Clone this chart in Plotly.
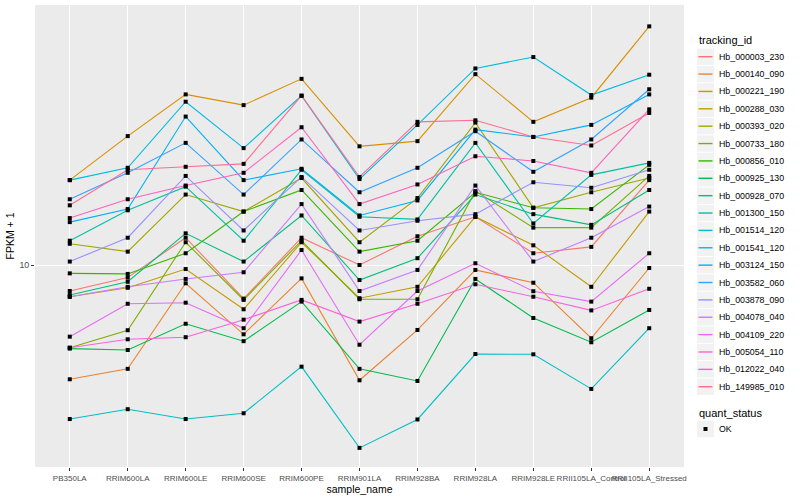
import plotly.graph_objects as go

samples = ["PB350LA", "RRIM600LA", "RRIM600LE", "RRIM600SE", "RRIM600PE", "RRIM901LA",
           "RRIM928BA", "RRIM928LA", "RRIM928LE", "RRII105LA_Control", "RRII105LA_Stressed"]

# FPKM + 1 values per tracking_id
hb_000003_230 = [8.61, 9.30, 11.7, 8.24, 11.7, 10.0, 11.8, 13.2, 10.7, 11.1, 16.3]
hb_000140_090 = [5.18, 5.50, 9.00, 6.71, 9.26, 5.15, 6.88, 9.72, 9.03, 6.56, 9.83]
hb_000221_190 = [16.3, 21.0, 26.7, 25.1, 29.2, 19.8, 20.4, 30.0, 22.8, 26.2, 39.5]
hb_000288_030 = [8.33, 8.77, 9.77, 7.75, 11.4, 8.26, 8.82, 13.2, 11.2, 8.82, 13.6]
hb_000393_020 = [11.3, 10.8, 15.0, 13.6, 16.5, 11.4, 14.7, 22.7, 13.9, 15.2, 16.5]
hb_000733_180 = [6.21, 6.87, 11.4, 8.18, 11.5, 8.21, 8.21, 15.3, 12.4, 12.4, 16.7]
hb_000856_010 = [9.53, 9.50, 10.7, 13.6, 15.4, 10.8, 11.5, 15.2, 13.9, 13.8, 17.8]
hb_000925_130 = [6.18, 6.13, 7.13, 6.45, 8.10, 5.50, 5.13, 9.23, 7.37, 6.41, 7.72]
hb_000928_070 = [8.41, 9.08, 12.0, 10.2, 13.3, 9.17, 10.4, 15.0, 13.4, 12.6, 15.4]
hb_001300_150 = [11.5, 13.7, 15.7, 11.5, 17.3, 13.2, 13.0, 20.2, 12.7, 16.8, 18.0]
hb_001514_120 = [4.12, 4.36, 4.12, 4.26, 5.57, 3.49, 4.11, 5.99, 5.98, 4.90, 6.95]
hb_001541_120 = [16.3, 17.5, 25.6, 19.6, 26.5, 16.4, 22.4, 31.0, 33.1, 26.6, 29.9]
hb_003124_150 = [12.8, 13.8, 23.5, 16.3, 17.4, 13.3, 14.5, 21.8, 20.9, 22.4, 26.7]
hb_003582_060 = [14.6, 17.0, 20.2, 15.0, 20.6, 15.2, 17.5, 21.6, 17.1, 20.6, 27.5]
hb_003878_090 = [10.2, 11.7, 16.7, 12.2, 16.6, 12.2, 12.9, 13.4, 16.1, 15.6, 17.3]
hb_004078_040 = [8.33, 8.82, 9.23, 9.59, 14.2, 8.61, 9.72, 15.8, 10.2, 11.7, 14.0]
hb_004109_220 = [6.62, 8.00, 8.05, 6.95, 10.9, 6.32, 8.61, 10.1, 8.60, 8.10, 10.7]
hb_005054_110 = [6.21, 6.52, 6.60, 7.30, 8.18, 7.22, 8.00, 8.95, 8.33, 7.70, 8.72]
hb_012022_040 = [13.1, 14.6, 15.8, 17.0, 22.1, 14.2, 15.9, 18.7, 18.2, 17.0, 24.5]
hb_149985_010 = [14.1, 17.3, 17.6, 17.9, 26.5, 16.6, 22.8, 23.0, 20.9, 19.9, 24.0]

tracking_ids = ["Hb_000003_230", "Hb_000140_090", "Hb_000221_190", "Hb_000288_030",
                "Hb_000393_020", "Hb_000733_180", "Hb_000856_010", "Hb_000925_130",
                "Hb_000928_070", "Hb_001300_150", "Hb_001514_120", "Hb_001541_120",
                "Hb_003124_150", "Hb_003582_060", "Hb_003878_090", "Hb_004078_040",
                "Hb_004109_220", "Hb_005054_110", "Hb_012022_040", "Hb_149985_010"]
series = [hb_000003_230, hb_000140_090, hb_000221_190, hb_000288_030, hb_000393_020,
          hb_000733_180, hb_000856_010, hb_000925_130, hb_000928_070, hb_001300_150,
          hb_001514_120, hb_001541_120, hb_003124_150, hb_003582_060, hb_003878_090,
          hb_004078_040, hb_004109_220, hb_005054_110, hb_012022_040, hb_149985_010]
colors = ["#F8766D", "#EA8331", "#D89000", "#C09B00", "#A3A500", "#7CAE00", "#39B600",
          "#00BB4E", "#00BF7D", "#00C1A3", "#00BFC4", "#00BAE0", "#00B0F6", "#35A2FF",
          "#9590FF", "#C77CFF", "#E76BF3", "#FA62DB", "#FF62BC", "#FF6C91"]

W, H = 800, 500
ML, MR, MT, MB = 35, 116, 5, 33
PW, PH = W - ML - MR, H - MT - MB

def px(x):
    return (x - ML) / PW

def py(y):
    return (H - MB - y) / PH

AXFONT = "Liberation Sans Narrow, Arial Narrow, Liberation Sans, Arial, sans-serif"
LFONT = "Liberation Sans, Arial, sans-serif"

fig = go.Figure()
for name, vals, col in zip(tracking_ids, series, colors):
    fig.add_trace(go.Scatter(x=samples, y=vals, mode="lines", name=name,
                             line=dict(color=col, width=1.1), showlegend=False))

all_x, all_y = [], []
for vals in series:
    all_x += samples
    all_y += vals
fig.add_trace(go.Scatter(x=all_x, y=all_y, mode="markers", name="OK", showlegend=False,
                         marker=dict(color="black", symbol="square", size=4, line=dict(width=0))))

shapes, annots = [], []
# legend: tracking_id
annots.append(dict(x=px(697), y=py(40), xref="paper", yref="paper", text="tracking_id",
                   showarrow=False, xanchor="left", yanchor="middle",
                   font=dict(family=LFONT, size=11, color="black")))
for i, (name, col) in enumerate(zip(tracking_ids, colors)):
    cy = 56.7 + 17.37 * i
    shapes.append(dict(type="rect", xref="paper", yref="paper", x0=px(697), x1=px(714),
                       y0=py(cy + 8.2), y1=py(cy - 8.2), fillcolor="#F2F2F2", line=dict(width=0)))
    shapes.append(dict(type="line", xref="paper", yref="paper", x0=px(698.5), x1=px(712.5),
                       y0=py(cy), y1=py(cy), line=dict(color=col, width=1.4)))
    annots.append(dict(x=px(717), y=py(cy), xref="paper", yref="paper", text=name,
                       showarrow=False, xanchor="left", yanchor="middle",
                       font=dict(family=LFONT, size=8.8, color="black")))
# legend: quant_status
annots.append(dict(x=px(697), y=py(413), xref="paper", yref="paper", text="quant_status",
                   showarrow=False, xanchor="left", yanchor="middle",
                   font=dict(family=LFONT, size=11, color="black")))
shapes.append(dict(type="rect", xref="paper", yref="paper", x0=px(697), x1=px(714),
                   y0=py(429 + 8.2), y1=py(429 - 8.2), fillcolor="#F2F2F2", line=dict(width=0)))
shapes.append(dict(type="rect", xref="paper", yref="paper", x0=px(703.5), x1=px(707.5),
                   y0=py(431), y1=py(427), fillcolor="black", line=dict(width=0)))
annots.append(dict(x=px(717), y=py(429), xref="paper", yref="paper", text="OK",
                   showarrow=False, xanchor="left", yanchor="middle",
                   font=dict(family=LFONT, size=8.8, color="black")))

fig.update_layout(
    width=W, height=H,
    margin=dict(l=ML, r=MR, t=MT, b=MB, autoexpand=False),
    paper_bgcolor="white", plot_bgcolor="#EBEBEB",
    showlegend=False, shapes=shapes, annotations=annots,
    xaxis=dict(type="category", categoryorder="array", categoryarray=samples,
               range=[-0.6, 10.6], showgrid=True, gridcolor="white", gridwidth=1.1,
               ticks="outside", ticklen=3, tickcolor="#333333", tickwidth=1, tickangle=0,
               tickfont=dict(family=AXFONT, size=8, color="#4D4D4D"),
               title=dict(text="sample_name", standoff=3,
                          font=dict(family=AXFONT, size=10.5, color="black")),
               showline=False, zeroline=False, automargin=False),
    yaxis=dict(type="log", range=[0.495, 1.65], tickvals=[10], ticktext=["10"],
               showgrid=True, gridcolor="white", gridwidth=1.1,
               ticks="outside", ticklen=3, tickcolor="#333333", tickwidth=1,
               tickfont=dict(family=AXFONT, size=8.8, color="#4D4D4D"),
               title=dict(text="FPKM + 1", standoff=2,
                          font=dict(family=AXFONT, size=10.5, color="black")),
               showline=False, zeroline=False, automargin=False),
)

fig.write_html("out.html", config={"displayModeBar": False},
               post_script="document.body.style.margin='0';document.body.style.overflow='hidden';")
